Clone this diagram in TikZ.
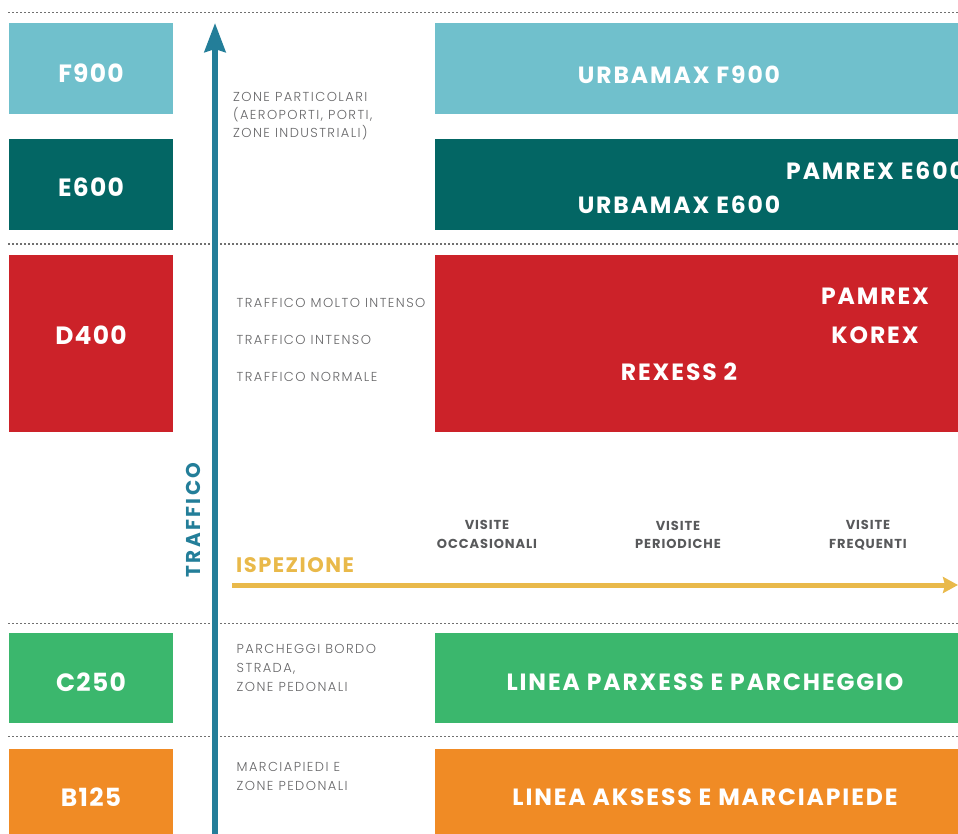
\documentclass[tikz,border=0pt]{standalone}
\usepackage{fontspec}
\setmainfont{Poppins}
\newfontfamily\lightfont{Poppins}[UprightFont=* Light]
\usetikzlibrary{arrows.meta}
\definecolor{cF}{HTML}{70C0CC}
\definecolor{cE}{HTML}{036664}
\definecolor{cD}{HTML}{CC2229}
\definecolor{cC}{HTML}{3BB76D}
\definecolor{cB}{HTML}{F08B25}
\definecolor{cBlue}{HTML}{237E99}
\definecolor{cYel}{HTML}{E9B94A}
\definecolor{cGray}{HTML}{666668}
\definecolor{cDark}{HTML}{58595B}
\definecolor{cDot}{HTML}{707070}
\begin{document}
\begin{tikzpicture}[x=1pt,y=-1pt,
  box/.style={inner sep=0pt, outer sep=0pt, draw=none},
  lbox/.style={box, minimum width=164pt},
  rbox/.style={box, minimum width=525pt},
  lab/.style={inner sep=0pt, anchor=base, text=white, font=\fontsize{25}{25}\selectfont\bfseries\addfontfeature{LetterSpace=5}},
  big/.style={inner sep=0pt, anchor=base, text=white, font=\fontsize{23.5}{23.5}\selectfont\bfseries\addfontfeature{LetterSpace=8}},
  gtxt/.style={inner sep=0pt, anchor=base west, text=cGray, font=\lightfont\fontsize{13}{13}\selectfont\addfontfeature{LetterSpace=11}},
  vis/.style={inner sep=0pt, anchor=base, text=cDark, font=\fontsize{13}{13}\selectfont\bfseries\addfontfeature{LetterSpace=7}},
  sep/.style={draw=cDot, line width=1.8pt, dash pattern=on 1.8pt off 2.2pt}
]
\useasboundingbox (0,0) rectangle (958,834);
% dotted separators
\coordinate (s1a) at (8,12.5);  \coordinate (s1b) at (958,12.5);
\coordinate (s2a) at (8,244.3); \coordinate (s2b) at (958,244.3);
\coordinate (s3a) at (8,623.5); \coordinate (s3b) at (958,623.5);
\coordinate (s4a) at (8,736.5); \coordinate (s4b) at (958,736.5);
\draw[sep] (s1a) -- (s1b);
\draw[sep] (s2a) -- (s2b);
\draw[sep] (s3a) -- (s3b);
\draw[sep] (s4a) -- (s4b);
% left boxes
\node[lbox, fill=cF, minimum height=91pt] (bF) at (91,68.5) {};
\node[lbox, fill=cE, minimum height=91pt] (bE) at (91,184.5) {};
\node[lbox, fill=cD, minimum height=177pt] (bD) at (91,343.5) {};
\node[lbox, fill=cC, minimum height=90pt] (bC) at (91,678) {};
\node[lbox, fill=cB, minimum height=96pt] (bB) at (91,797) {};
\node[lab] (tF) at (91,83) {F900};
\node[lab] (tE) at (91,197) {E600};
\node[lab] (tD) at (91,344) {D400};
\node[lab] (tC) at (91,691) {C250};
\node[lab] (tB) at (91,806) {B125};
% right boxes
\node[rbox, fill=cF, minimum height=91pt] (rF) at (697.5,68.5) {};
\node[rbox, fill=cE, minimum height=91pt] (rE) at (697.5,184.5) {};
\node[rbox, fill=cD, minimum height=177pt] (rD) at (697.5,343.5) {};
\node[rbox, fill=cC, minimum height=90pt] (rC) at (697.5,678) {};
\node[rbox, fill=cB, minimum height=96pt] (rB) at (697.5,797) {};
\node[big] (uF) at (679,84) {URBAMAX F900};
\node[big, anchor=base west] (pE) at (786,180) {PAMREX E600};
\node[big] (uE) at (679,214) {URBAMAX E600};
\node[big] (pD) at (875,305) {PAMREX};
\node[big] (kD) at (875,343) {KOREX};
\node[big] (xD) at (679,380) {REXESS 2};
\node[big] (lC) at (705,690) {LINEA PARXESS E PARCHEGGIO};
\node[big] (lB) at (705,805) {LINEA AKSESS E MARCIAPIEDE};
% gray descriptions
\node[gtxt] (g1) at (233,102) {ZONE PARTICOLARI};
\node[gtxt] (g2) at (233,120) {(AEROPORTI, PORTI,};
\node[gtxt] (g3) at (233,138) {ZONE INDUSTRIALI)};
\node[gtxt] (g4) at (236.5,307) {TRAFFICO MOLTO INTENSO};
\node[gtxt] (g5) at (236.5,344) {TRAFFICO INTENSO};
\node[gtxt] (g6) at (236.5,381) {TRAFFICO NORMALE};
\node[gtxt] (g7) at (236.5,653) {PARCHEGGI BORDO};
\node[gtxt] (g8) at (236.5,672) {STRADA,};
\node[gtxt] (g9) at (236.5,691) {ZONE PEDONALI};
\node[gtxt] (g10) at (236.5,771) {MARCIAPIEDI E};
\node[gtxt] (g11) at (236.5,790) {ZONE PEDONALI};
% visite labels
\node[vis] (v1a) at (487,529) {VISITE};
\node[vis] (v1b) at (487,548) {OCCASIONALI};
\node[vis] (v2a) at (678,530) {VISITE};
\node[vis] (v2b) at (678,548) {PERIODICHE};
\node[vis] (v3a) at (868,529) {VISITE};
\node[vis] (v3b) at (868,548) {FREQUENTI};
% axes
\coordinate (vB) at (215,840);
\coordinate (vT) at (215,23);
\draw[cBlue, line width=5.5pt, -{Stealth[length=29pt,width=21pt,inset=3pt]}] (vB) -- (vT);
\node[inner sep=0pt, text=cBlue, rotate=90, font=\fontsize{20}{20}\selectfont\bfseries\addfontfeature{LetterSpace=12}] (tr) at (193.5,520) {TRAFFICO};
\coordinate (hL) at (232,585);
\coordinate (hR) at (958,585);
\draw[cYel, line width=5pt, -{Stealth[length=15pt,width=16pt,inset=2pt]}] (hL) -- (hR);
\node[inner sep=0pt, anchor=base west, text=cYel, font=\fontsize{21}{21}\selectfont\bfseries\addfontfeature{LetterSpace=7}] (isp) at (236,572) {ISPEZIONE};
\end{tikzpicture}
\end{document}
